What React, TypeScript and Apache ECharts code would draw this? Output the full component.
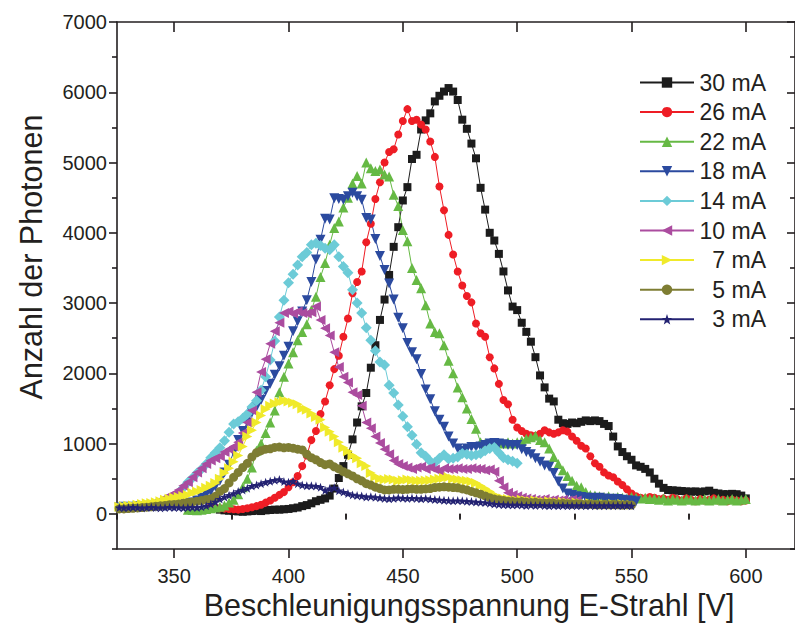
import React, { useEffect, useRef } from "react";
import * as echarts from "echarts";

// Beschleunigungsspannung step (V) between successive measurements
const STEP = 2;

// 30 mA, starts at 370 V
const start30 = 370;
const mA30 = [
  60, 50, 45, 40, 35, 30, 35, 40, 45, 40,
  50, 55, 60, 60, 65, 70, 80, 90, 110, 125,
  150, 180, 200, 220, 260, 360, 510, 680, 840, 1060,
  1300, 1530, 1720, 2080, 2400, 2760, 3050, 3400, 3800, 4080,
  4460, 4650, 5050, 5110, 5470, 5600, 5700, 5870, 5950, 6010,
  6060, 6010, 5890, 5610, 5480, 5270, 5060, 4640, 4330, 4000,
  3890, 3700, 3450, 3180, 2950, 2900, 2720, 2590, 2450, 2230,
  1970, 1800, 1640, 1600, 1340, 1290, 1280, 1300, 1290, 1310,
  1330, 1320, 1330, 1320, 1280, 1250, 1100, 960, 880, 820,
  770, 690, 670, 640, 590, 500, 430, 370, 340, 335,
  330, 325, 320, 315, 320, 310, 320, 330, 300, 290,
  280, 280, 285, 280, 260, 220,
];

// 26 mA, starts at 366 V
const start26 = 366;
const mA26 = [
  110, 90, 80, 75, 70, 65, 60, 70, 80, 95,
  110, 130, 160, 190, 230, 270, 310, 380, 450, 540,
  680, 830, 1050, 1180, 1420, 1600, 1830, 2060, 2250, 2520,
  2780, 3140, 3300, 3450, 3865, 4130, 4480, 4720, 5000, 5150,
  5190, 5400, 5590, 5760, 5590, 5610, 5540, 5470, 5300, 5080,
  4660, 4320, 3970, 3690, 3450, 3250, 3100, 3010, 2710, 2570,
  2520, 2230, 2070, 1850, 1620, 1560, 1340, 1230, 1180, 1140,
  1120, 1110, 1140, 1190, 1160, 1140, 1160, 1190, 1170, 1100,
  1040, 970, 930, 820, 720, 670, 590, 545, 520, 460,
  410, 350, 290, 250, 230, 220, 240, 230, 210, 220,
  200, 230, 210, 190, 220, 200, 180, 210, 190, 200,
  220, 190, 200, 180, 200, 190, 180, 190,
];

// 22 mA, starts at 356 V
const start22 = 356;
const mA22 = [
  60, 55, 50, 60, 70, 80, 90, 100, 120, 160,
  200, 280, 380, 500, 660, 900, 1000, 1150, 1300, 1470,
  1730, 1950, 2140, 2300, 2470, 2590, 2700, 2900, 3090, 3370,
  3570, 3830, 4070, 4160, 4360, 4500, 4700, 4810, 4700, 5000,
  4920, 4880, 4900, 4830, 4800, 4540, 4380, 4040, 3880, 3500,
  3330, 3210, 2970, 2710, 2590, 2570, 2400, 2180, 2000, 1800,
  1660, 1500, 1350, 1210, 1020, 1000, 1000, 990, 1010, 1000,
  1020, 1000, 1020, 1040, 1070, 1090, 1110, 1050, 1020, 930,
  810, 710, 620, 540, 470, 400, 380, 310, 270, 260,
  250, 240, 250, 230, 240, 230, 220, 240, 230, 220,
  230, 210, 220, 200, 220, 190, 210, 200, 190, 210,
  200, 190, 200, 210, 190, 200, 210, 190, 200, 210,
  190, 200, 210,
];

// 18 mA, starts at 326 V
const start18 = 326;
const mA18 = [
  90, 100, 95, 100, 110, 100, 105, 110, 100, 115,
  110, 120, 115, 130, 140, 150, 160, 190, 230, 280,
  320, 390, 470, 590, 700, 880, 1050, 1180, 1300, 1440,
  1520, 1620, 1750, 1850, 1980, 2100, 2250, 2380, 2600, 2740,
  2880, 3040, 3300, 3620, 3900, 4200, 4190, 4490, 4480, 4470,
  4520, 4570, 4520, 4470, 4210, 4190, 3910, 3670, 3470, 3280,
  3050, 2790, 2640, 2430, 2300, 2200, 1990, 1770, 1630, 1460,
  1340, 1240, 1100, 1000, 930, 900, 930, 950, 950, 960,
  980, 1000, 1010, 1000, 990, 980, 970, 980, 920, 880,
  850, 790, 740, 690, 670, 580, 460, 360, 290, 270,
  250, 240, 230, 230, 220, 230, 220, 210, 215, 210,
  200, 190, 190, 180,
];

// 14 mA, starts at 326 V
const start14 = 326;
const mA14 = [
  90, 100, 100, 110, 100, 110, 120, 130, 140, 160,
  190, 210, 250, 300, 370, 450, 510, 580, 640, 710,
  800, 870, 940, 1040, 1160, 1280, 1310, 1360, 1420, 1520,
  1610, 1760, 1950, 2190, 2460, 2800, 3040, 3290, 3410, 3540,
  3660, 3720, 3830, 3850, 3820, 3780, 3760, 3830, 3660, 3520,
  3430, 3190, 3000, 2860, 2650, 2470, 2320, 2160, 2120, 1830,
  1720, 1550, 1390, 1240, 1120, 990, 870, 820, 750, 730,
  790, 840, 780, 790, 810, 860, 850, 830, 840, 860,
  900, 930, 945, 870, 800, 770, 750, 720,
];

// 10 mA, starts at 326 V
const start10 = 326;
const mA10 = [
  80, 90, 100, 95, 105, 110, 120, 140, 160, 180,
  230, 260, 290, 340, 400, 450, 520, 590, 650, 710,
  760, 790, 820, 880, 920, 960, 1020, 1150, 1300, 1470,
  1730, 2020, 2200, 2420, 2600, 2720, 2860, 2880, 2850, 2880,
  2860, 2850, 2870, 2950, 2760, 2640, 2540, 2300, 2090, 1950,
  1870, 1730, 1690, 1540, 1300, 1220, 1100, 1010, 920, 850,
  760, 710, 680, 660, 640, 660, 670, 640, 660, 630,
  610, 650, 640, 640, 650, 640, 640, 650, 640, 640,
  620, 630, 600, 470, 380, 300, 270, 250, 230, 220,
  210, 200, 200, 210, 190, 200, 190, 200, 190, 200,
  190,
];

// 7 mA, starts at 326 V
const start7 = 326;
const mA7 = [
  100, 110, 115, 120, 130, 140, 150, 155, 165, 180,
  200, 215, 230, 240, 255, 270, 300, 320, 340, 370,
  400, 440, 500, 580, 650, 740, 830, 960, 1100, 1190,
  1300, 1400, 1490, 1540, 1570, 1590, 1610, 1600, 1580, 1560,
  1500, 1480, 1430, 1380, 1340, 1230, 1170, 1100, 1020, 940,
  890, 830, 790, 720, 680, 580, 530, 500, 490, 495,
  490, 470, 480, 490, 480, 470, 470, 475, 480, 490,
  500, 510, 520, 500, 490, 480, 470, 460, 440, 400,
  360, 320, 270, 240, 220, 210, 200, 190, 200, 190,
  180, 190, 180, 170, 180, 170, 160, 170, 160, 150,
  160, 150, 140, 150, 140, 130, 140, 130, 140, 130,
  140, 130, 130,
];

// 5 mA, starts at 326 V
const start5 = 326;
const mA5 = [
  70, 70, 75, 80, 85, 90, 95, 100, 110, 115,
  120, 130, 135, 140, 150, 160, 170, 180, 190, 205,
  215, 250, 320, 360, 440, 520, 590, 660, 720, 810,
  870, 900, 920, 925, 945, 950, 940, 945, 935, 920,
  910, 850, 800, 770, 730, 700, 710, 670, 640, 600,
  570, 540, 500, 470, 430, 410, 380, 360, 340, 340,
  350, 350, 345, 350, 355, 350, 350, 355, 360, 375,
  380, 385, 380, 375, 370, 355, 340, 320, 300, 280,
  255, 230, 210, 200, 190, 180, 175, 170, 175, 165,
  160, 165, 155, 150, 155, 150, 145, 150, 145, 140,
  145, 140, 135, 140, 135, 130, 135, 130, 135, 130,
  125, 130, 125,
];

// 3 mA, starts at 326 V
const start3 = 326;
const mA3 = [
  90, 85, 90, 95, 90, 85, 90, 95, 90, 85,
  90, 95, 90, 90, 85, 90, 95, 90, 100, 115,
  140, 170, 210, 240, 265, 290, 320, 340, 365, 395,
  410, 430, 450, 465, 480, 490, 460, 450, 465, 430,
  410, 400, 400, 395, 380, 335, 360, 370, 330, 310,
  290, 270, 260, 255, 240, 245, 235, 230, 220, 215,
  220, 230, 225, 220, 225, 220, 215, 220, 210, 205,
  200, 195, 190, 185, 190, 185, 180, 175, 170, 165,
  160, 150, 140, 135, 130, 130, 125, 130, 125, 120,
  125, 120, 125, 120, 115, 120, 115, 120, 115, 120,
  115, 120, 115, 120, 115, 120, 115, 120, 115, 120,
  115, 120, 115,
];

const xMajorTicks = [350, 400, 450, 500, 550, 600];
const xMinorTicks = [325, 375, 425, 475, 525, 575];
const yMajorTicks = [0, 1000, 2000, 3000, 4000, 5000, 6000, 7000];
const yMinorTicks = [-500, 500, 1500, 2500, 3500, 4500, 5500, 6500];

const STAR =
  "path://M0,-10L2.35,-3.24L9.51,-3.09L3.8,1.24L5.88,8.09L0,4L-5.88,8.09L-3.8,1.24L-9.51,-3.09L-2.35,-3.24Z";

const seriesDefs = [
  { name: "30 mA", start: start30, values: mA30, color: "#1c1c1c", symbol: "rect", size: 8, rotate: 0 },
  { name: "26 mA", start: start26, values: mA26, color: "#ee1d25", symbol: "circle", size: 8, rotate: 0 },
  { name: "22 mA", start: start22, values: mA22, color: "#66b944", symbol: "triangle", size: 10, rotate: 0 },
  { name: "18 mA", start: start18, values: mA18, color: "#2b4a9f", symbol: "triangle", size: 10, rotate: 180 },
  { name: "14 mA", start: start14, values: mA14, color: "#6ccbd7", symbol: "diamond", size: 11, rotate: 0 },
  { name: "10 mA", start: start10, values: mA10, color: "#ab4c9f", symbol: "triangle", size: 10, rotate: 90 },
  { name: "7 mA", start: start7, values: mA7, color: "#f0ea2a", symbol: "triangle", size: 10, rotate: -90 },
  { name: "5 mA", start: start5, values: mA5, color: "#7e7d33", symbol: "circle", size: 9, rotate: 0 },
  { name: "3 mA", start: start3, values: mA3, color: "#232272", symbol: STAR, size: 9, rotate: 0 },
];

const FONT = "'Liberation Sans', Arial, sans-serif";
const INK = "#231f20";

export default function App() {
  const ref = useRef<HTMLDivElement>(null);

  useEffect(() => {
    if (!ref.current) return;
    const chart = echarts.init(ref.current, null, { renderer: "svg" });

    const axisLine = { show: true, onZero: false, lineStyle: { color: INK, width: 1.6 } };
    const tickStyle = { color: INK, width: 1.6 };
    const plain = (v: number) => String(v);

    const xBase = { type: "value", min: 325, max: 621.5, interval: 25, splitLine: { show: false } };
    const yBase = { type: "value", min: -500, max: 7000, interval: 500, splitLine: { show: false } };

    const option: any = {
      animation: false,
      backgroundColor: "#ffffff",
      textStyle: { fontFamily: FONT },
      grid: { left: 117, top: 22, width: 680, height: 527, containLabel: false },
      legend: {
        orient: "vertical",
        left: 639,
        top: 71,
        itemWidth: 54,
        itemHeight: 13,
        itemGap: 6.6,
        itemTextGap: 5,
        padding: 0,
        selectedMode: false,
        data: seriesDefs.map((s) => s.name),
        formatter: (name: string) => `{t|${name}}`,
        textStyle: {
          fontFamily: FONT,
          rich: { t: { width: 67, align: "right", fontSize: 23, lineHeight: 22, color: INK, fontFamily: FONT } },
        },
      },
      xAxis: [
        {
          ...xBase,
          position: "bottom",
          axisLine,
          axisTick: { show: true, customValues: xMajorTicks, length: 9, lineStyle: tickStyle },
          axisLabel: { customValues: xMajorTicks, formatter: plain, fontSize: 20, color: INK, margin: 17, fontFamily: FONT },
        },
        {
          ...xBase,
          position: "bottom",
          axisLine: { show: false },
          axisTick: { show: true, customValues: xMinorTicks, length: 5, lineStyle: tickStyle },
          axisLabel: { show: false },
        },
        {
          ...xBase,
          position: "top",
          axisLine,
          axisTick: { show: true, inside: true, customValues: xMajorTicks, length: 10, lineStyle: tickStyle },
          axisLabel: { show: false },
        },
        {
          ...xBase,
          position: "top",
          axisLine: { show: false },
          axisTick: { show: true, inside: true, customValues: xMinorTicks, length: 6, lineStyle: tickStyle },
          axisLabel: { show: false },
        },
      ],
      yAxis: [
        {
          ...yBase,
          position: "left",
          axisLine,
          axisTick: { show: true, customValues: yMajorTicks, length: 8, lineStyle: tickStyle },
          axisLabel: { customValues: yMajorTicks, formatter: plain, fontSize: 20, color: INK, margin: 10, fontFamily: FONT },
        },
        {
          ...yBase,
          position: "left",
          axisLine: { show: false },
          axisTick: { show: true, customValues: yMinorTicks, length: 5, lineStyle: tickStyle },
          axisLabel: { show: false },
        },
        {
          ...yBase,
          position: "right",
          axisLine,
          axisTick: { show: true, inside: true, customValues: yMajorTicks, length: 8, lineStyle: tickStyle },
          axisLabel: { show: false },
        },
        {
          ...yBase,
          position: "right",
          axisLine: { show: false },
          axisTick: { show: true, inside: true, customValues: yMinorTicks, length: 5, lineStyle: tickStyle },
          axisLabel: { show: false },
        },
      ],
      graphic: [
        {
          type: "text",
          x: 469,
          y: 605,
          style: {
            text: "Beschleunigungsspannung E-Strahl [V]",
            font: `30.5px ${FONT}`,
            fill: INK,
            textAlign: "center",
            textVerticalAlign: "middle",
          },
        },
        {
          type: "text",
          x: 31,
          y: 257,
          rotation: Math.PI / 2,
          style: {
            text: "Anzahl der Photonen",
            font: `30.5px ${FONT}`,
            fill: INK,
            textAlign: "center",
            textVerticalAlign: "middle",
          },
        },
      ],
      series: seriesDefs.map((s) => ({
        name: s.name,
        type: "line",
        xAxisIndex: 0,
        yAxisIndex: 0,
        data: s.values.map((v, i) => [s.start + i * STEP, v]),
        symbol: s.symbol,
        symbolSize: s.size,
        symbolRotate: s.rotate,
        showAllSymbol: true,
        lineStyle: { color: s.color, width: 1 },
        itemStyle: { color: s.color, borderWidth: 0 },
        emphasis: { disabled: true },
        silent: true,
      })),
    };

    chart.setOption(option);
    return () => chart.dispose();
  }, []);

  return (
    <div
      ref={ref}
      style={{ position: "fixed", left: 0, top: 0, width: 795, height: 624, background: "#fff" }}
    />
  );
}
